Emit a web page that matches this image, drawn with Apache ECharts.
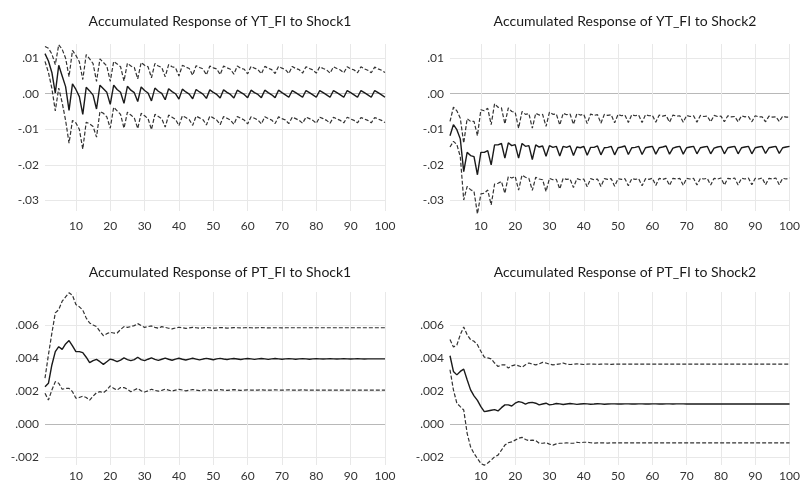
<!DOCTYPE html>
<html lang="en">
<head>
    <meta charset="UTF-8">
    <title>Accumulated Responses</title>
    <script src="https://cdn.jsdelivr.net/npm/echarts@6/dist/echarts.min.js"></script>
    <style>
        body { margin: 0; background: #fff; }
        #main { width: 803px; height: 486px; }
    </style>
</head>
<body>
<div id="main"></div>
<script>
    // periods 1..100
    let periods = [];
    for (let i = 1; i <= 100; i++) periods.push(String(i));

    let titles = [
        'Accumulated Response of YT_FI to Shock1',
        'Accumulated Response of YT_FI to Shock2',
        'Accumulated Response of PT_FI to Shock1',
        'Accumulated Response of PT_FI to Shock2'
    ];

    // YT_FI to Shock1
    let yt1Mid = [
        .0113, .0092, .0060, .0002, .0080, .0050, .0020, -.0047, .0028, .0012,
        -.0008, -.0058, .0018, .0008, -.0004, -.0043, .0024, .0014, .0004, -.0030,
        .0024, .0012, .0004, -.0027, .0021, .0010, .0003, -.0022, .0019, .0009,
        .0002, -.0020, .0016, .0007, .0001, -.0017, .0014, .0006, .0000, -.0015,
        .0013, .0005, -.0001, -.0014, .0012, .0005, -.0001, -.0013, .0011, .0004,
        -.0002, -.0012, .0011, .0004, -.0002, -.0012, .0010, .0004, -.0002, -.0011,
        .0010, .0003, -.0002, -.0011, .0010, .0003, -.0003, -.0011, .0010, .0003,
        -.0003, -.0010, .0009, .0003, -.0003, -.0010, .0009, .0003, -.0003, -.0010,
        .0009, .0003, -.0003, -.0010, .0009, .0003, -.0003, -.0010, .0009, .0003,
        -.0003, -.0010, .0009, .0003, -.0003, -.0010, .0009, .0003, -.0003, -.0010
    ];
    let yt1Up = [
        .0133, .0128, .0112, .0082, .0138, .0125, .0100, .0048, .0122, .0108,
        .0090, .0040, .0110, .0098, .0085, .0035, .0098, .0088, .0078, .0035,
        .0091, .0084, .0076, .0036, .0086, .0078, .0074, .0042, .0088, .0080,
        .0076, .0045, .0085, .0078, .0074, .0048, .0082, .0076, .0073, .0050,
        .0080, .0075, .0071, .0052, .0079, .0074, .0070, .0053, .0078, .0073,
        .0070, .0054, .0078, .0073, .0069, .0055, .0078, .0072, .0069, .0056,
        .0077, .0072, .0068, .0056, .0077, .0072, .0068, .0057, .0077, .0072,
        .0068, .0057, .0077, .0071, .0068, .0058, .0076, .0071, .0067, .0058,
        .0076, .0071, .0067, .0058, .0076, .0071, .0067, .0059, .0076, .0070,
        .0067, .0059, .0076, .0070, .0066, .0059, .0075, .0070, .0066, .0060
    ];
    let yt1Low = [
        .0091, .0060, .0015, -.0048, .0016, -.0025, -.0075, -.0139, -.0075, -.0082,
        -.0100, -.0156, -.0080, -.0085, -.0092, -.0122, -.0050, -.0055, -.0065, -.0097,
        -.0038, -.0048, -.0058, -.0097, -.0052, -.0060, -.0068, -.0098, -.0055, -.0062,
        -.0070, -.0101, -.0058, -.0064, -.0070, -.0094, -.0060, -.0066, -.0072, -.0090,
        -.0062, -.0067, -.0073, -.0089, -.0063, -.0068, -.0073, -.0088, -.0063, -.0068,
        -.0074, -.0087, -.0064, -.0069, -.0074, -.0086, -.0064, -.0069, -.0074, -.0085,
        -.0065, -.0069, -.0074, -.0085, -.0065, -.0070, -.0074, -.0084, -.0065, -.0070,
        -.0074, -.0084, -.0066, -.0070, -.0075, -.0083, -.0066, -.0070, -.0075, -.0083,
        -.0066, -.0070, -.0075, -.0083, -.0066, -.0071, -.0075, -.0082, -.0066, -.0071,
        -.0075, -.0082, -.0067, -.0071, -.0075, -.0082, -.0067, -.0071, -.0075, -.0081
    ];

    // YT_FI to Shock2
    let yt2Mid = [
        -.0118, -.0087, -.0101, -.0127, -.0219, -.0165, -.0174, -.0177, -.0228, -.0165,
        -.0165, -.0160, -.0200, -.0144, -.0144, -.0140, -.0181, -.0138, -.0146, -.0143,
        -.0181, -.0140, -.0148, -.0146, -.0185, -.0144, -.0150, -.0147, -.0176, -.0146,
        -.0151, -.0148, -.0175, -.0148, -.0151, -.0147, -.0174, -.0150, -.0152, -.0148,
        -.0173, -.0151, -.0151, -.0147, -.0172, -.0152, -.0151, -.0148, -.0172, -.0152,
        -.0150, -.0147, -.0171, -.0152, -.0151, -.0148, -.0171, -.0152, -.0150, -.0148,
        -.0170, -.0152, -.0150, -.0147, -.0170, -.0153, -.0150, -.0148, -.0170, -.0152,
        -.0150, -.0148, -.0169, -.0152, -.0150, -.0148, -.0169, -.0153, -.0150, -.0148,
        -.0169, -.0152, -.0150, -.0148, -.0169, -.0152, -.0150, -.0148, -.0169, -.0152,
        -.0150, -.0148, -.0168, -.0152, -.0150, -.0148, -.0168, -.0152, -.0150, -.0148
    ];
    let yt2Up = [
        -.0078, -.0038, -.0048, -.0069, -.0139, -.0070, -.0078, -.0078, -.0118, -.0045,
        -.0048, -.0041, -.0087, -.0028, -.0038, -.0040, -.0085, -.0040, -.0050, -.0052,
        -.0097, -.0050, -.0058, -.0056, -.0097, -.0055, -.0060, -.0058, -.0092, -.0052,
        -.0058, -.0057, -.0088, -.0055, -.0059, -.0057, -.0086, -.0056, -.0060, -.0058,
        -.0084, -.0057, -.0061, -.0059, -.0083, -.0058, -.0061, -.0059, -.0082, -.0058,
        -.0062, -.0060, -.0081, -.0059, -.0062, -.0060, -.0081, -.0059, -.0062, -.0061,
        -.0080, -.0060, -.0063, -.0061, -.0080, -.0060, -.0063, -.0062, -.0080, -.0061,
        -.0064, -.0062, -.0080, -.0061, -.0064, -.0063, -.0079, -.0061, -.0064, -.0063,
        -.0079, -.0062, -.0065, -.0064, -.0079, -.0062, -.0065, -.0064, -.0079, -.0062,
        -.0065, -.0065, -.0079, -.0063, -.0066, -.0065, -.0078, -.0063, -.0066, -.0066
    ];
    let yt2Low = [
        -.0150, -.0134, -.0143, -.0177, -.0299, -.0261, -.0270, -.0275, -.0338, -.0282,
        -.0280, -.0271, -.0313, -.0254, -.0252, -.0247, -.0280, -.0233, -.0237, -.0233,
        -.0271, -.0229, -.0235, -.0238, -.0272, -.0235, -.0240, -.0242, -.0275, -.0238,
        -.0242, -.0241, -.0268, -.0238, -.0241, -.0240, -.0264, -.0239, -.0242, -.0240,
        -.0262, -.0239, -.0242, -.0240, -.0261, -.0239, -.0241, -.0239, -.0260, -.0239,
        -.0241, -.0239, -.0259, -.0239, -.0241, -.0239, -.0259, -.0239, -.0241, -.0238,
        -.0258, -.0238, -.0241, -.0238, -.0258, -.0238, -.0240, -.0238, -.0258, -.0238,
        -.0240, -.0238, -.0257, -.0238, -.0240, -.0238, -.0257, -.0238, -.0240, -.0237,
        -.0257, -.0238, -.0240, -.0237, -.0257, -.0238, -.0240, -.0237, -.0256, -.0238,
        -.0240, -.0237, -.0256, -.0238, -.0240, -.0237, -.0256, -.0238, -.0240, -.0237
    ];

    // PT_FI to Shock1
    let pt1Mid = [
        .00225, .00246, .00357, .00438, .00468, .00452, .00485, .00505, .00473, .00438,
        .00438, .00432, .00404, .00371, .00383, .00391, .00377, .00361, .00377, .00393,
        .00387, .00377, .00387, .00400, .00390, .00383, .00390, .00404, .00390, .00383,
        .00392, .00400, .00391, .00385, .00392, .00399, .00392, .00386, .00393, .00398,
        .00392, .00387, .00393, .00398, .00393, .00388, .00393, .00397, .00393, .00389,
        .00394, .00397, .00393, .00390, .00394, .00396, .00393, .00390, .00394, .00396,
        .00394, .00391, .00394, .00396, .00394, .00391, .00394, .00396, .00394, .00392,
        .00394, .00395, .00394, .00392, .00394, .00395, .00394, .00392, .00394, .00395,
        .00394, .00393, .00394, .00395, .00394, .00393, .00394, .00395, .00394, .00393,
        .00394, .00395, .00394, .00393, .00394, .00394, .00394, .00394, .00394, .00394
    ];
    let pt1Up = [
        .00277, .00419, .00550, .00673, .00693, .00744, .00770, .00795, .00780, .00724,
        .00710, .00690, .00642, .00612, .00600, .00590, .00561, .00535, .00547, .00555,
        .00551, .00551, .00572, .00590, .00585, .00590, .00596, .00608, .00596, .00585,
        .00590, .00594, .00585, .00580, .00590, .00585, .00580, .00576, .00582, .00586,
        .00583, .00579, .00582, .00585, .00583, .00580, .00582, .00585, .00583, .00581,
        .00582, .00584, .00583, .00581, .00582, .00584, .00583, .00582, .00583, .00584,
        .00583, .00582, .00583, .00584, .00583, .00582, .00583, .00583, .00583, .00582,
        .00583, .00583, .00583, .00583, .00583, .00583, .00583, .00583, .00583, .00583,
        .00583, .00583, .00583, .00583, .00583, .00583, .00583, .00583, .00583, .00583,
        .00583, .00583, .00583, .00583, .00583, .00583, .00583, .00583, .00583, .00583
    ];
    let pt1Low = [
        .00185, .00144, .00205, .00256, .00246, .00210, .00215, .00215, .00195, .00155,
        .00160, .00168, .00160, .00144, .00168, .00189, .00195, .00189, .00205, .00230,
        .00215, .00205, .00220, .00220, .00210, .00195, .00205, .00215, .00200, .00193,
        .00200, .00210, .00203, .00198, .00203, .00210, .00204, .00199, .00204, .00209,
        .00205, .00200, .00204, .00208, .00205, .00201, .00204, .00207, .00205, .00202,
        .00205, .00207, .00205, .00203, .00205, .00207, .00205, .00203, .00205, .00206,
        .00205, .00204, .00205, .00206, .00205, .00204, .00205, .00206, .00205, .00205,
        .00205, .00206, .00205, .00205, .00205, .00206, .00205, .00205, .00205, .00205,
        .00205, .00205, .00205, .00205, .00205, .00205, .00205, .00205, .00205, .00205,
        .00205, .00205, .00205, .00205, .00205, .00205, .00205, .00205, .00205, .00205
    ];

    // PT_FI to Shock2
    let pt2Mid = [
        .00413, .00318, .00297, .00318, .00332, .00267, .00206, .00170, .00142, .00104,
        .00074, .00078, .00082, .00086, .00078, .00098, .00115, .00115, .00108, .00125,
        .00135, .00130, .00120, .00128, .00130, .00125, .00115, .00120, .00125, .00115,
        .00118, .00123, .00121, .00117, .00120, .00123, .00121, .00118, .00120, .00122,
        .00121, .00119, .00120, .00122, .00121, .00119, .00120, .00121, .00121, .00120,
        .00120, .00121, .00121, .00120, .00120, .00121, .00121, .00120, .00120, .00121,
        .00121, .00120, .00120, .00121, .00121, .00120, .00121, .00121, .00121, .00120,
        .00120, .00120, .00120, .00120, .00120, .00120, .00120, .00120, .00120, .00120,
        .00120, .00120, .00120, .00120, .00120, .00120, .00120, .00120, .00120, .00120,
        .00120, .00120, .00120, .00120, .00120, .00120, .00120, .00120, .00120, .00120
    ];
    let pt2Up = [
        .00511, .00466, .00478, .00541, .00588, .00541, .00511, .00501, .00480, .00440,
        .00405, .00400, .00394, .00369, .00348, .00358, .00358, .00338, .00352, .00358,
        .00352, .00344, .00358, .00369, .00362, .00358, .00364, .00373, .00369, .00362,
        .00358, .00360, .00364, .00369, .00362, .00360, .00361, .00364, .00362, .00360,
        .00362, .00363, .00362, .00361, .00362, .00363, .00362, .00361, .00362, .00362,
        .00362, .00362, .00362, .00362, .00362, .00362, .00362, .00362, .00362, .00362,
        .00362, .00362, .00362, .00362, .00362, .00362, .00362, .00362, .00362, .00362,
        .00362, .00362, .00362, .00362, .00362, .00362, .00362, .00362, .00362, .00362,
        .00362, .00362, .00362, .00362, .00362, .00362, .00362, .00362, .00362, .00362,
        .00362, .00362, .00362, .00362, .00362, .00362, .00362, .00362, .00362, .00362
    ];
    let pt2Low = [
        .00328, .00206, .00125, .00104, .00084, -.00058, -.00140, -.00180, -.00211, -.00241,
        -.00251, -.00238, -.00221, -.00200, -.00190, -.00160, -.00129, -.00115, -.00110, -.00099,
        -.00088, -.00082, -.00095, -.00102, -.00099, -.00102, -.00118, -.00118, -.00115, -.00123,
        -.00129, -.00122, -.00118, -.00118, -.00115, -.00118, -.00118, -.00112, -.00115, -.00112,
        -.00112, -.00115, -.00117, -.00116, -.00115, -.00116, -.00117, -.00116, -.00116, -.00116,
        -.00116, -.00116, -.00116, -.00116, -.00116, -.00116, -.00116, -.00116, -.00116, -.00116,
        -.00116, -.00116, -.00116, -.00116, -.00116, -.00116, -.00116, -.00116, -.00116, -.00116,
        -.00116, -.00116, -.00116, -.00116, -.00116, -.00116, -.00116, -.00116, -.00116, -.00116,
        -.00116, -.00116, -.00116, -.00116, -.00116, -.00116, -.00116, -.00116, -.00116, -.00116,
        -.00116, -.00116, -.00116, -.00116, -.00116, -.00116, -.00116, -.00116, -.00116, -.00116
    ];

    let panels = [
        {mid: yt1Mid, up: yt1Up, low: yt1Low},
        {mid: yt2Mid, up: yt2Up, low: yt2Low},
        {mid: pt1Mid, up: pt1Up, low: pt1Low},
        {mid: pt2Mid, up: pt2Up, low: pt2Low}
    ];

    // axis settings: top row in steps of .001 (labels every .01), bottom row in steps of .0005 (labels every .002)
    let axes = [
        {min: -0.033, max: 0.014, step: 0.001, labelStep: 0.01, digits: 2},
        {min: -0.033, max: 0.014, step: 0.001, labelStep: 0.01, digits: 2},
        {min: -0.0025, max: 0.008, step: 0.0005, labelStep: 0.002, digits: 3},
        {min: -0.0025, max: 0.008, step: 0.0005, labelStep: 0.002, digits: 3}
    ];
    let grids = [
        {left: 45, top: 44, width: 340, height: 167},
        {left: 450, top: 44, width: 340, height: 167},
        {left: 45, top: 292, width: 340, height: 173},
        {left: 450, top: 292, width: 340, height: 173}
    ];

    function isMultiple(v, step) {
        let r = v / step;
        return Math.abs(r - Math.round(r)) < 1e-6;
    }

    function fmt(v, digits) {
        if (Math.abs(v) < 1e-9) return '.' + '0'.repeat(digits);
        return v.toFixed(digits).replace('0.', '.');
    }

    let tenth = function (index) {
        return (index + 1) % 10 === 0;
    };

    let option = {
        animation: false,
        backgroundColor: '#fff',
        textStyle: {fontFamily: 'Lato, "Open Sans", sans-serif'},
        title: [],
        grid: [],
        xAxis: [],
        yAxis: [],
        series: []
    };

    panels.forEach(function (p, k) {
        let g = grids[k];
        let a = axes[k];
        option.grid.push({left: g.left, top: g.top, width: g.width, height: g.height});
        option.title.push({
            text: titles[k],
            left: g.left + g.width / 2,
            top: k < 2 ? 9 : 260,
            textAlign: 'center',
            textStyle: {fontSize: 14, fontWeight: 'normal', color: '#1a1a1a', fontFamily: 'Lato, sans-serif'}
        });
        option.xAxis.push({
            type: 'category',
            gridIndex: k,
            data: periods,
            boundaryGap: false,
            axisLine: {show: false},
            axisTick: {show: false},
            axisLabel: {
                interval: tenth,
                color: '#333',
                fontSize: 12,
                margin: k < 2 ? 9 : 5
            },
            splitLine: {show: true, interval: tenth, lineStyle: {color: '#e8e8e8', width: 1}}
        });
        // split line colours, one per tick from min up; the top edge gets no line
        let colors = [];
        let n = Math.round((a.max - a.min) / a.step);
        for (let i = 0; i <= n; i++) {
            let v = a.min + i * a.step;
            if (Math.abs(v) < 1e-9) colors.push('#b8b8b8');
            else if (i < n && isMultiple(v, a.labelStep)) colors.push('#e8e8e8');
            else colors.push('rgba(0,0,0,0)');
        }
        option.yAxis.push({
            type: 'value',
            gridIndex: k,
            min: a.min,
            max: a.max,
            interval: a.step,
            axisLine: {show: false},
            axisTick: {show: false},
            axisLabel: {
                color: '#333',
                fontSize: 12,
                margin: 6,
                showMinLabel: true,
                showMaxLabel: false,
                formatter: function (v) {
                    if (v > a.max - a.step / 2) return '';
                    return isMultiple(v, a.labelStep) ? fmt(v, a.digits) : '';
                }
            },
            splitLine: {show: true, lineStyle: {color: colors, width: 1}}
        });
        let common = {type: 'line', xAxisIndex: k, yAxisIndex: k, showSymbol: false, symbol: 'none', clip: false, silent: true};
        option.series.push(Object.assign({}, common, {
            data: p.up, lineStyle: {color: '#333', width: 1.2, type: [4, 2]}
        }));
        option.series.push(Object.assign({}, common, {
            data: p.low, lineStyle: {color: '#333', width: 1.2, type: [4, 2]}
        }));
        option.series.push(Object.assign({}, common, {
            data: p.mid, lineStyle: {color: '#1a1a1a', width: 1.4, type: 'solid'}
        }));
    });

    let mychart = echarts.init(document.getElementById('main'));
    mychart.setOption(option);
</script>
</body>
</html>
